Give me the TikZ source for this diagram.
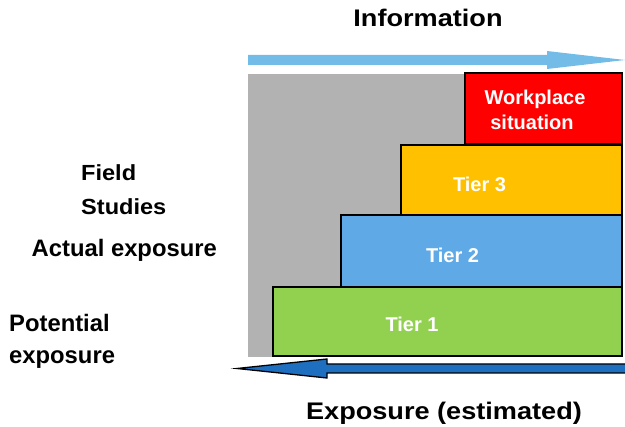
\documentclass[tikz,border=0pt]{standalone}
\usepackage{fontspec}
\usepackage{graphicx}
\setmainfont{Liberation Sans}
\definecolor{grayfill}{HTML}{B2B2B2}
\definecolor{redfill}{HTML}{FF0000}
\definecolor{yellowfill}{HTML}{FFC000}
\definecolor{bluefill}{HTML}{5FA9E6}
\definecolor{greenfill}{HTML}{92D050}
\definecolor{toparrow}{HTML}{74BCE8}
\definecolor{botarrow}{HTML}{1F6FC0}
\tikzset{
  tierbox/.style={draw=black, line width=1.6pt},
  lbll/.style={inner sep=0pt, anchor=base west, font=\bfseries\fontsize{23.8}{28}\selectfont},
  inlbl/.style={inner sep=0pt, anchor=base, text=white, font=\bfseries\fontsize{20}{24}\selectfont},
  title/.style={inner sep=0pt, anchor=base, font=\bfseries\fontsize{24}{28}\selectfont},
}
\begin{document}
\begin{tikzpicture}[x=1pt,y=-1pt]
\useasboundingbox (0,0) rectangle (625,427);
% gray background
\fill[grayfill] (248,74) rectangle (622,357);
% tier boxes
\draw[tierbox, fill=greenfill] (273,287) rectangle (622,356);
\draw[tierbox, fill=bluefill] (341,215) rectangle (622,287);
\draw[tierbox, fill=yellowfill] (401,145) rectangle (622,215);
\draw[tierbox, fill=redfill] (465,73) rectangle (622,144);
% top arrow
\fill[toparrow] (248,55) -- (547,55) -- (547,51) -- (625,60) -- (547,69) -- (547,65) -- (248,65) -- cycle;
% bottom arrow
\draw[fill=botarrow, draw=black, line width=1.3pt, line join=miter]
  (626,364) -- (327,364) -- (327,359) -- (237,368.5) -- (327,378) -- (327,373) -- (626,373);
% titles
\node[title] (info) at (428,27) {\scalebox{1.13}[1]{Information}};
\node[title] (expo) at (444,419.5) {\scalebox{1.13}[1]{Exposure (estimated)}};
% left labels
\node[lbll] (field) at (81,180.7) {\scalebox{0.99}[0.92]{Field}};
\node[lbll] (studies) at (81,215) {\scalebox{0.99}[0.92]{Studies}};
\node[lbll] (actual) at (31.5,256.7) {Actual exposure};
\node[lbll] (potential) at (9,331.7) {Potential};
\node[lbll] (exposure) at (9,364) {exposure};
% in-box labels
\node[inlbl] (work) at (535,105) {Workplace};
\node[inlbl] (situ) at (532,129.3) {situation};
\node[inlbl] (t3) at (479.5,191.7) {Tier 3};
\node[inlbl] (t2) at (452.5,263) {Tier 2};
\node[inlbl] (t1) at (412,331.7) {Tier 1};
\end{tikzpicture}
\end{document}
